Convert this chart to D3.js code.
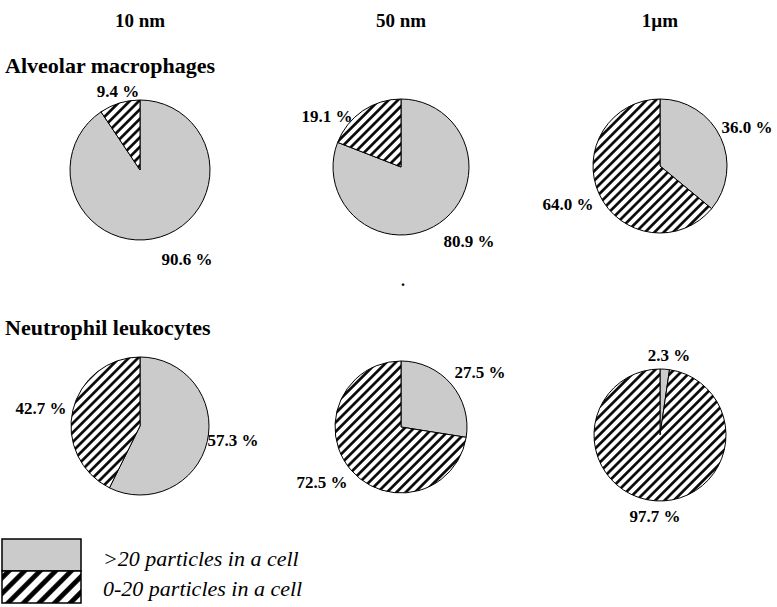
<!DOCTYPE html>
<html>
<head>
<meta charset="utf-8">
<script src="https://cdn.jsdelivr.net/npm/d3@7"></script>
<style>
  html, body { margin: 0; padding: 0; background: #fff; }
  svg { display: block; }
</style>
</head>
<body>
<svg id="chart" width="777" height="607"></svg>
<script>
// ---- data ----
const sizeLabels = ["10 nm", "50 nm", "1\u00b5m"];
const cellTypes = ["Alveolar macrophages", "Neutrophil leukocytes"];
const seriesNames = [">20 particles in a cell", "0-20 particles in a cell"];
const over20AM = [90.6, 80.9, 36.0];
const under20AM = [9.4, 19.1, 64.0];
const over20NL = [57.3, 27.5, 2.3];
const under20NL = [42.7, 72.5, 97.7];

// ---- layout ----
const FONT = "'Liberation Serif', 'DejaVu Serif', 'Times New Roman', serif";
const colX = [140, 401, 660];
const rowY = [[170, 167, 166], [426, 427, 435]];
const radii = [[70, 68, 67], [69, 66, 66]];
const headerY = 27;
const groupLabelY = [73, 335];
// label offsets relative to pie center: [dx, dy] for [over20, under20]
const labelOff = [
  [[[47, 95], [-22, -73]], [[68, 80], [-74, -45]], [[87, -33], [-92, 44]]],
  [[[93, 20], [-99, -12]], [[79, -49], [-79, 61]], [[9, -74], [-5, 87]]]
];

const svg = d3.select("#chart").attr("font-family", FONT);
const defs = svg.append("defs");

function hatch(id, size, lw) {
  const p = defs.append("pattern")
    .attr("id", id)
    .attr("patternUnits", "userSpaceOnUse")
    .attr("width", size).attr("height", size)
    .attr("patternTransform", "rotate(45)");
  p.append("rect").attr("width", size).attr("height", size).attr("fill", "#fff");
  p.append("rect").attr("x", (size - lw) / 2).attr("y", 0)
    .attr("width", lw).attr("height", size).attr("fill", "#000");
}
hatch("hatch", 6.6, 2.6);
hatch("hatchBig", 11, 4.8);

const color = d3.scaleOrdinal().domain(seriesNames).range(["#cbcbcb", "url(#hatch)"]);
const legendColor = d3.scaleOrdinal().domain(seriesNames).range(["#cbcbcb", "url(#hatchBig)"]);

// headers
svg.selectAll("text.header").data(sizeLabels).enter().append("text")
  .attr("class", "header")
  .attr("x", (d, i) => colX[i]).attr("y", headerY)
  .attr("text-anchor", "middle")
  .attr("font-family", FONT)
  .attr("font-size", 19).attr("font-weight", "bold")
  .text(d => d);

// group labels
svg.selectAll("text.group").data(cellTypes).enter().append("text")
  .attr("class", "group")
  .attr("x", 5).attr("y", (d, i) => groupLabelY[i])
  .attr("font-family", FONT)
  .attr("font-size", 22).attr("font-weight", "bold")
  .text(d => d);

const pie = d3.pie().sort(null).value(d => d.value);
const rows = [[over20AM, under20AM], [over20NL, under20NL]];

rows.forEach((pair, r) => {
  sizeLabels.forEach((s, c) => {
    const data = [
      { name: seriesNames[0], value: pair[0][c] },
      { name: seriesNames[1], value: pair[1][c] }
    ];
    const arcs = pie(data);
    const R = radii[r][c];
    const arc = d3.arc().innerRadius(0).outerRadius(R);
    const g = svg.append("g").attr("transform", `translate(${colX[c]},${rowY[r][c]})`);
    g.selectAll("path").data(arcs).enter().append("path")
      .attr("d", arc)
      .attr("fill", d => color(d.data.name))
      .attr("stroke", "#000").attr("stroke-width", 1);
    g.selectAll("text").data(arcs).enter().append("text")
      .attr("x", (d, i) => labelOff[r][c][i][0])
      .attr("y", (d, i) => labelOff[r][c][i][1])
      .attr("text-anchor", "middle")
      .attr("font-family", FONT)
      .attr("font-size", 17).attr("font-weight", "bold")
      .text(d => d3.format(".1f")(d.data.value) + " %");
  });
});

// stray dot present in the original figure
svg.append("text").attr("x", 401).attr("y", 286)
  .attr("font-family", FONT).attr("font-size", 16).attr("font-weight", "bold").text(".");

// legend
const lg = svg.append("g").attr("transform", "translate(2,539)");
lg.selectAll("rect").data(seriesNames).enter().append("rect")
  .attr("x", 0).attr("y", (d, i) => i * 32)
  .attr("width", 79).attr("height", 32)
  .attr("fill", d => legendColor(d))
  .attr("stroke", "#000").attr("stroke-width", 1.5);
lg.selectAll("text").data(seriesNames).enter().append("text")
  .attr("x", 101).attr("y", (d, i) => 27 + i * 30)
  .attr("font-family", FONT)
  .attr("font-size", 22).attr("font-style", "italic")
  .text(d => d);
</script>
</body>
</html>
